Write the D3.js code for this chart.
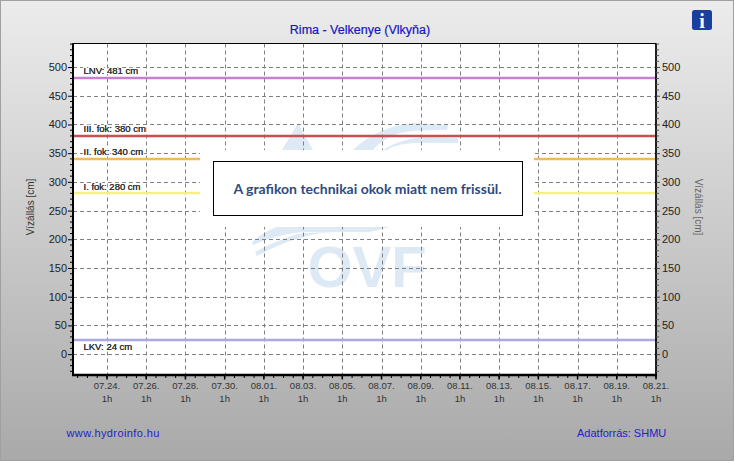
<!DOCTYPE html>
<html><head><meta charset="utf-8">
<script src="https://cdnjs.cloudflare.com/ajax/libs/d3/7.8.5/d3.min.js"></script>
<style>html,body{margin:0;padding:0;background:#fff}svg{display:block}text{font-family:"Liberation Sans",Arial,sans-serif}</style>
</head><body><div id="c"></div>
<script>
const title = "Rima - Velkenye (Vlkyňa)";
const yAxisLabel = "Vízállás [cm]";
const levelNames = ["LNV","III. fok","II. fok","I. fok","LKV"];
const levelValues = [481,380,340,280,24];
const levelColors = ["#c87fd0","#c8504f","#f0b95c","#f5ef85","#a9a9e0"];
const levelLabelSide = [1,1,1,1,-1];
const yTicks = [0,50,100,150,200,250,300,350,400,450,500];
const dateTicks = ["07.24.","07.26.","07.28.","07.30.","08.01.","08.03.","08.05.","08.07.","08.09.","08.11.","08.13.","08.15.","08.17.","08.19.","08.21."];
const hourLabel = "1h";
const notice = "A grafikon technikai okok miatt nem frissül.";
const siteLink = "www.hydroinfo.hu";
const sourceText = "Adatforrás: SHMU";

const W=735,H=463,m={l:73,r:656,t:43.5,b:374.5};
const parse=d3.utcParse("%Y.%m.%d.%H");
const toDate=s=>parse("2021."+s+"01");
const x=d3.scaleUtc().domain([new Date(+toDate("07.24.")-1.735*864e5),toDate("08.21.")]).range([m.l,m.r]);
const y=d3.scaleLinear().domain([-35.5,541]).range([m.b,m.t]);
const svg=d3.select("#c").append("svg").attr("width",W).attr("height",H);
const defs=svg.append("defs");
const g=defs.append("linearGradient").attr("id","bg").attr("x1",0).attr("x2",0).attr("y1",0).attr("y2",1);
g.append("stop").attr("offset",0).attr("stop-color","#ececec");
g.append("stop").attr("offset",1).attr("stop-color","#a9a9a9");
defs.append("clipPath").attr("id","pc").append("rect").attr("x",m.l).attr("y",m.t).attr("width",m.r-m.l).attr("height",m.b-m.t);

svg.append("rect").attr("x",.5).attr("y",.5).attr("width",W-2).attr("height",H-3).attr("fill","url(#bg)").attr("stroke","#a0a0a0");
svg.append("rect").attr("x",m.l).attr("y",m.t).attr("width",m.r-m.l).attr("height",m.b-m.t).attr("fill","#fff");

// watermark
const wm=svg.append("g").attr("fill","#dde9f5").attr("clip-path","url(#pc)");
wm.append("path").attr("d","M298 123L313 150H282Z");
wm.append("path").attr("d","M353 150C370 133 392 125 413 123L448 125L447 130C430 130 415 130 400 133C388 137 380 142 373 150Z");
wm.append("path").attr("d","M383 150C395 142 410 138 425 137L458 138V143H413C402 144 392 146 388 150Z");
wm.append("path").attr("d","M252 242C260 235 268 230 277 227H390L370 232H303C285 234 268 238 253 245Z");
wm.append("path").attr("d","M255 252C270 244 288 236 303 233L335 232C320 233 308 235 300 238C285 242 270 249 257 256Z");
wm.append("text").attr("x",367).attr("y",287).attr("text-anchor","middle").attr("font-size",58).attr("font-weight","bold").text("OVF");

// grid
const grid=svg.append("g").attr("stroke","#808080").attr("stroke-dasharray","4 3").attr("fill","none");
grid.selectAll(".gy").data(yTicks).join("line").attr("x1",m.l).attr("x2",m.r).attr("y1",d=>Math.round(y(d))+.5).attr("y2",d=>Math.round(y(d))+.5);
grid.selectAll(".gx").data(dateTicks.slice(0,-1)).join("line").attr("y1",m.t).attr("y2",m.b).attr("x1",d=>Math.round(x(toDate(d)))+.5).attr("x2",d=>Math.round(x(toDate(d)))+.5);

// levels
const lv=svg.append("g");
lv.selectAll("line").data(levelValues).join("line").attr("x1",m.l).attr("x2",m.r+1).attr("y1",d=>Math.round(y(d))).attr("y2",d=>Math.round(y(d))).attr("stroke",(d,i)=>levelColors[i]).attr("stroke-width",2.5);
lv.selectAll("text").data(levelValues).join("text").attr("x",83.5).attr("y",(d,i)=>y(d)+(levelLabelSide[i]>0?-3.5:9.5)).attr("font-size",9.5).attr("fill","#333").attr("stroke","#fff").attr("stroke-width",2.5).attr("paint-order","stroke").text((d,i)=>`${levelNames[i]}: ${d} cm`);
lv.selectAll(".ink").data(levelValues).join("text").attr("class","ink").attr("x",83.5).attr("y",(d,i)=>y(d)+(levelLabelSide[i]>0?-3.5:9.5)).attr("font-size",9.5).attr("fill","#333").attr("stroke","#333").attr("stroke-width",.1).text((d,i)=>`${levelNames[i]}: ${d} cm`);

// frame
svg.append("rect").attr("x",m.l).attr("y",m.t).attr("width",m.r-m.l).attr("height",m.b-m.t).attr("fill","none").attr("stroke","#000").attr("stroke-width",1);
svg.append("line").attr("x1",m.l).attr("x2",m.l).attr("y1",m.t).attr("y2",m.b+1).attr("stroke","#000").attr("stroke-width",2);
svg.append("line").attr("x1",m.r).attr("x2",m.r).attr("y1",m.t).attr("y2",m.b+1).attr("stroke","#000").attr("stroke-width",1.5);
svg.append("line").attr("x1",m.l-1).attr("x2",m.r+1).attr("y1",m.b+.5).attr("y2",m.b+.5).attr("stroke","#000").attr("stroke-width",2.5);

// axes
const minorY=d3.range(-30,541,10).filter(v=>v%50!==0);
const axY=(sel,dir)=>{
  const a=(dir<0?d3.axisLeft(y):d3.axisRight(y)).tickValues(yTicks).tickSize(dir<0?5:4).tickPadding(dir<0?1:2).tickFormat(d3.format("d"));
  sel.call(a); sel.select(".domain").remove();
  sel.selectAll("text").attr("font-size",11).attr("fill","#222");
  sel.selectAll("line").attr("stroke",dir<0?"#000":"#444");
  sel.selectAll(".mn").data(minorY).join("line").attr("class","mn").attr("x2",dir*3).attr("y1",d=>y(d)).attr("y2",d=>y(d)).attr("stroke",dir<0?"#000":"#555");
};
svg.append("g").attr("transform",`translate(${m.l},0)`).call(axY,-1);
svg.append("g").attr("transform",`translate(${m.r},0)`).call(axY,1);
const xA=svg.append("g").attr("transform",`translate(0,${m.b})`);
const tickDates=dateTicks.map(toDate);
xA.selectAll(".mj").data(tickDates).join("line").attr("class","mj").attr("x1",d=>x(d)).attr("x2",d=>x(d)).attr("y1",0).attr("y2",5).attr("stroke","#000").attr("stroke-width",1.5);
const minorX=d3.utcHour.every(12).range(x.domain()[0],x.domain()[1]).map(d=>new Date(+d+36e5));
xA.selectAll(".mn").data(minorX).join("line").attr("class","mn").attr("x1",d=>x(d)).attr("x2",d=>x(d)).attr("y1",0).attr("y2",3.5).attr("stroke","#000");
xA.selectAll(".t1").data(tickDates).join("text").attr("class","t1").attr("x",d=>x(d)).attr("y",14.5).attr("text-anchor","middle").attr("font-size",9.5).attr("fill","#333").text((d,i)=>dateTicks[i]);
xA.selectAll(".t2").data(tickDates).join("text").attr("class","t2").attr("x",d=>x(d)).attr("y",27).attr("text-anchor","middle").attr("font-size",9.5).attr("fill","#333").text(hourLabel);

// axis titles
svg.append("text").attr("transform","translate(34,207) rotate(-90)").attr("text-anchor","middle").attr("font-size",10).attr("fill","#333").text(yAxisLabel);
svg.append("text").attr("transform","translate(695,207) rotate(90)").attr("text-anchor","middle").attr("font-size",10).attr("fill","#666").text(yAxisLabel);

// title
svg.append("text").attr("x",360).attr("y",34).attr("text-anchor","middle").attr("font-size",12.5).attr("fill","#1414c4").attr("stroke","#1414c4").attr("stroke-width",.2).text(title);

// notice
svg.append("rect").attr("x",200).attr("y",150).attr("width",334).attr("height",77).attr("fill","#fff");
svg.append("rect").attr("x",213.5).attr("y",161.5).attr("width",309).attr("height",54).attr("fill","#fff").attr("stroke","#000");
svg.append("text").attr("x",367.5).attr("y",193.5).attr("text-anchor","middle").attr("font-size",14).attr("font-weight",700).style("font-family","Lato").attr("fill","#2f4a7c").text(notice);

// footer
svg.append("text").attr("x",66.5).attr("y",437).attr("font-size",11).attr("letter-spacing",.4).attr("fill","#2222c8").text(siteLink);
svg.append("text").attr("x",577).attr("y",437).attr("font-size",11).attr("fill","#2222c8").text(sourceText);

// info icon
svg.append("rect").attr("x",692).attr("y",10).attr("width",20).attr("height",20).attr("rx",2.5).attr("fill","#1a3f9c");
svg.append("text").attr("x",702).attr("y",28).attr("text-anchor","middle").attr("font-size",20).attr("font-weight","bold").attr("fill","#fff").style("font-family","'Liberation Serif'").text("i");
</script></body></html>
